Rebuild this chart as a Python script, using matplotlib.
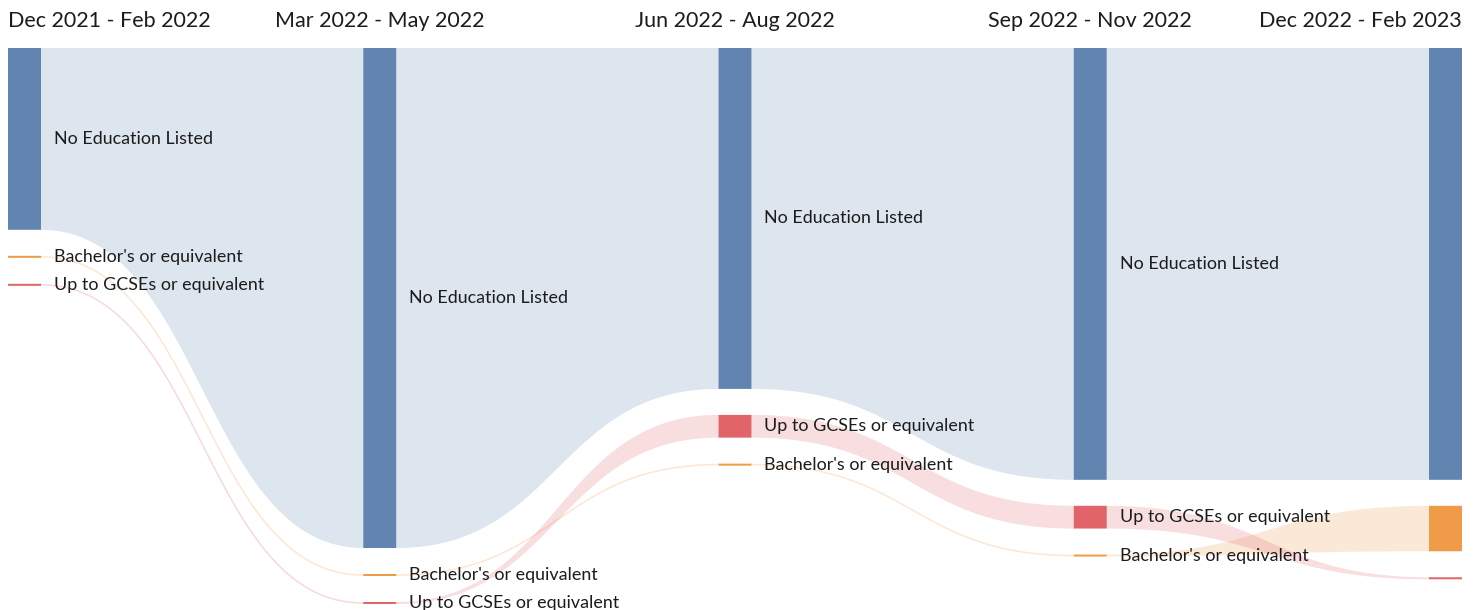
import numpy as np
import matplotlib.pyplot as plt
from matplotlib.patches import Rectangle, Polygon

plt.rcParams['font.family'] = ['Lato', 'DejaVu Sans']

# ---- data -------------------------------------------------------------
periods = ["Dec 2021 - Feb 2022", "Mar 2022 - May 2022", "Jun 2022 - Aug 2022",
           "Sep 2022 - Nov 2022", "Dec 2022 - Feb 2023"]
categories = ["No Education Listed", "Bachelor's or equivalent",
              "Up to GCSEs or equivalent"]
no_education = [8, 22, 15, 19, 19]
bachelors = [0, 0, 0, 0, 2]
up_to_gcses = [0, 0, 1, 1, 0]

values = {
    "No Education Listed": no_education,
    "Bachelor's or equivalent": bachelors,
    "Up to GCSEs or equivalent": up_to_gcses,
}
node_colors = {
    "No Education Listed": "#6185b0",
    "Bachelor's or equivalent": "#f09b48",
    "Up to GCSEs or equivalent": "#e06468",
}

# ---- layout (canvas pixels) --------------------------------------------
W, H = 1477, 610
left, right = 8, 1462
top, bottom = 48, 604
node_w = 33
gap = 26
min_h = 2.0
flow_alpha = 0.21
text_color = "#1c1c1c"

n_cols = len(periods)
col_x = [left + i * (right - left - node_w) / (n_cols - 1) for i in range(n_cols)]

# common value scale so the fullest column fills the height
totals = []
for i in range(n_cols):
    vals = [values[c][i] for c in categories]
    n_zero = sum(1 for v in vals if v == 0)
    totals.append((sum(vals), n_zero))
scale = min((bottom - top - gap * (len(categories) - 1) - nz * min_h) / s
            for s, nz in totals)

# node positions: each column stacked by descending value
nodes = {}
for i in range(n_cols):
    order = sorted(categories, key=lambda c: -values[c][i])
    y = top
    for c in order:
        h = max(values[c][i] * scale, min_h)
        nodes[(c, i)] = (y, y + h)
        y += h + gap

fig = plt.figure(figsize=(W / 100, H / 100), dpi=100)
ax = fig.add_axes([0, 0, 1, 1])
ax.set_xlim(0, W)
ax.set_ylim(H, 0)
ax.axis("off")


def link_curve(x0, y0, x1, y1, n=120):
    t = np.linspace(0, 1, n)
    xm = (x0 + x1) / 2
    xs = (1 - t) ** 3 * x0 + 3 * (1 - t) ** 2 * t * xm + 3 * (1 - t) * t ** 2 * xm + t ** 3 * x1
    ys = (1 - t) ** 3 * y0 + 3 * (1 - t) ** 2 * t * y0 + 3 * (1 - t) * t ** 2 * y1 + t ** 3 * y1
    return xs, ys


# flows between consecutive periods
for c in categories:
    col = node_colors[c]
    for i in range(n_cols - 1):
        s0, s1 = nodes[(c, i)]
        t0, t1 = nodes[(c, i + 1)]
        xa = col_x[i] + node_w
        xb = col_x[i + 1]
        if values[c][i] == 0 and values[c][i + 1] == 0:
            xs, ys = link_curve(xa, (s0 + s1) / 2, xb, (t0 + t1) / 2)
            ax.plot(xs, ys, color=col, alpha=flow_alpha + 0.03, lw=1.1,
                    solid_capstyle="butt", zorder=1)
        else:
            xt, yt = link_curve(xa, s0, xb, t0)
            xbm, ybm = link_curve(xa, s1, xb, t1)
            pts = np.column_stack([np.concatenate([xt, xbm[::-1]]),
                                   np.concatenate([yt, ybm[::-1]])])
            ax.add_patch(Polygon(pts, closed=True, facecolor=col,
                                 alpha=flow_alpha, edgecolor="none", zorder=1))

# nodes and labels
for (c, i), (y0, y1) in nodes.items():
    ax.add_patch(Rectangle((col_x[i], y0), node_w, y1 - y0,
                           facecolor=node_colors[c], edgecolor="none",
                           snap=False, zorder=2))
    if i < n_cols - 1:
        ax.text(col_x[i] + node_w + 13, (y0 + y1) / 2, c, fontsize=12.85,
                color=text_color, ha="left", va="center", zorder=3)

# period headers
for i, p in enumerate(periods):
    if i == 0:
        x, ha = col_x[i], "left"
    elif i == n_cols - 1:
        x, ha = col_x[i] + node_w, "right"
    else:
        x, ha = col_x[i] + node_w / 2, "center"
    ax.text(x, 21, p, fontsize=15.5, color=text_color, ha=ha, va="center")

fig.savefig("out.png", dpi=100, facecolor="white")
